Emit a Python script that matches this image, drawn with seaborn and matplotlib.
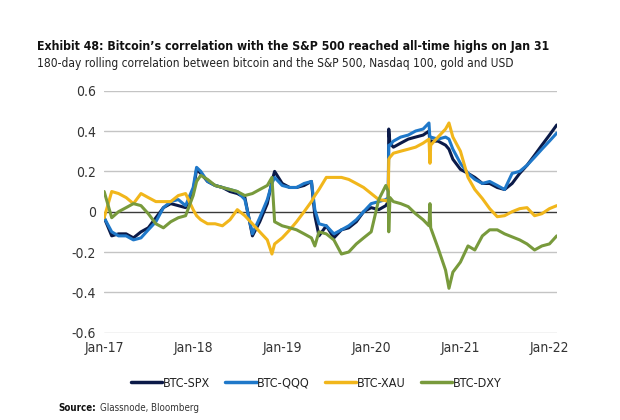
import pandas as pd
import matplotlib
matplotlib.use("Agg")
import matplotlib.pyplot as plt
import matplotlib.dates as mdates
from matplotlib.lines import Line2D
import seaborn as sns

# month starts plus a few extra dates where the lines jump or spike
months = pd.date_range("2017-01-01", "2022-01-01", freq="MS")
extra = ["2018-01-15", "2018-11-20", "2019-05-15", "2020-03-11", "2020-03-13",
         "2020-03-18", "2020-08-25", "2020-08-29", "2020-11-15", "2022-01-31"]
dates = sorted(list(months) + list(pd.to_datetime(extra)))

btc_spx = [-0.03, -0.12, -0.11, -0.11, -0.13, -0.10, -0.08, -0.03, 0.02, 0.04, 0.03, 0.02,
           0.10, 0.21, 0.19, 0.15, 0.13, 0.12, 0.10, 0.09, 0.07, -0.12, -0.05, 0.04, 0.15, 0.20,
           0.14, 0.12, 0.12, 0.13, 0.15, -0.02, -0.12, -0.07, -0.13, -0.09, -0.08, -0.05, 0.00,
           0.02, 0.01, 0.03, 0.05, 0.41, 0.34, 0.32, 0.34, 0.36, 0.37, 0.38, 0.40, 0.34, 0.35,
           0.35, 0.33, 0.31, 0.26,
           0.21, 0.19, 0.17, 0.14, 0.14, 0.12, 0.11, 0.14, 0.19, 0.23, 0.28, 0.33,
           0.38, 0.43]
btc_qqq = [-0.03, -0.10, -0.12, -0.12, -0.14, -0.13, -0.09, -0.05, 0.02, 0.05, 0.06, 0.03,
           0.12, 0.22, 0.20, 0.15, 0.13, 0.12, 0.11, 0.10, 0.06, -0.11, -0.03, 0.06, 0.14, 0.17,
           0.13, 0.12, 0.12, 0.14, 0.15, 0.01, -0.06, -0.07, -0.11, -0.09, -0.07, -0.04, 0.00,
           0.04, 0.05, 0.06, 0.07, 0.33, 0.33, 0.35, 0.37, 0.38, 0.40, 0.41, 0.44, 0.36, 0.37,
           0.36, 0.37, 0.36, 0.31,
           0.24, 0.19, 0.16, 0.14, 0.15, 0.13, 0.11, 0.19, 0.20, 0.23, 0.27, 0.31,
           0.35, 0.39]
btc_xau = [-0.03, 0.10, 0.09, 0.07, 0.04, 0.09, 0.07, 0.05, 0.05, 0.05, 0.08, 0.09,
           0.01, -0.02, -0.04, -0.06, -0.06, -0.07, -0.04, 0.01, -0.02, -0.06, -0.10, -0.14, -0.21, -0.16,
           -0.13, -0.09, -0.05, 0.00, 0.05, 0.08, 0.11, 0.17, 0.17, 0.17, 0.16, 0.14, 0.12,
           0.09, 0.06, 0.055, 0.05, 0.26, 0.27, 0.29, 0.30, 0.31, 0.32, 0.34, 0.36, 0.24, 0.33,
           0.37, 0.41, 0.44, 0.37,
           0.30, 0.17, 0.11, 0.065, 0.015, -0.025, -0.02, 0.00, 0.015, 0.02, -0.02, -0.01,
           0.015, 0.03]
btc_dxy = [0.10, -0.03, 0.00, 0.02, 0.04, 0.03, -0.01, -0.06, -0.08, -0.05, -0.03, -0.02,
           0.08, 0.15, 0.18, 0.16, 0.13, 0.12, 0.11, 0.10, 0.08, 0.09, 0.11, 0.13, 0.17, -0.05,
           -0.07, -0.08, -0.09, -0.11, -0.13, -0.17, -0.10, -0.11, -0.14, -0.21, -0.20, -0.16, -0.13,
           -0.10, 0.06, 0.13, 0.10, -0.10, 0.07, 0.05, 0.04, 0.025, -0.01, -0.04, -0.07, 0.04, -0.08,
           -0.18, -0.29, -0.38, -0.30,
           -0.25, -0.17, -0.19, -0.12, -0.09, -0.09, -0.11, -0.125, -0.14, -0.16, -0.19, -0.17,
           -0.16, -0.12]

pairs = ["BTC-SPX", "BTC-QQQ", "BTC-XAU", "BTC-DXY"]
colors = ["#0b1a48", "#1f78c9", "#f1b61b", "#789a3c"]

df = pd.concat([
    pd.DataFrame({"date": dates, "corr": vals, "pair": name})
    for name, vals in zip(pairs, [btc_spx, btc_qqq, btc_xau, btc_dxy])
])

sns.set_style("white")
plt.rcParams["font.family"] = ["DejaVu Sans"]
plt.rcParams["font.stretch"] = "condensed"

fig = plt.figure(figsize=(6.2, 4.2), dpi=100)
ax = fig.add_axes([0.168, 0.208, 0.730, 0.576])

for y in [-0.6, -0.4, -0.2, 0.2, 0.4, 0.6]:
    ax.axhline(y, color="#c4c4c4", lw=1.0, zorder=0)
ax.axhline(0, color="#3a3a3a", lw=1.0, zorder=0)

sns.lineplot(data=df, x="date", y="corr", hue="pair", hue_order=pairs,
             palette=dict(zip(pairs, colors)), linewidth=2.2, legend=False, ax=ax)

ax.set_ylim(-0.6, 0.6)
ax.set_yticks([-0.6, -0.4, -0.2, 0, 0.2, 0.4, 0.6])
ax.set_yticklabels(["-0.6", "-0.4", "-0.2", "0", "0.2", "0.4", "0.6"])
ax.set_xlim(pd.Timestamp("2017-01-01"), pd.Timestamp("2022-01-31"))
ax.set_xticks(pd.date_range("2017-01-01", "2022-01-01", freq="YS"))
ax.xaxis.set_major_formatter(mdates.DateFormatter("%b-%y"))
ax.tick_params(axis="both", length=0, labelsize=10, labelcolor="#333333", pad=6)
ax.set_xlabel("")
ax.set_ylabel("")
ax.grid(False)
for s in ax.spines.values():
    s.set_visible(False)

handles = [Line2D([0], [0], color=c, lw=2.5) for c in colors]
fig.legend(handles, pairs, loc="center", bbox_to_anchor=(0.51, 0.088), ncol=4,
           frameon=False, fontsize=9, handlelength=2.5, handletextpad=0.05,
           columnspacing=1.2, labelcolor="#222222")

title = fig.text(0.06, 0.88, "Exhibit 48: Bitcoin\u2019s correlation with the S&P 500 reached all-time highs on Jan 31",
                 fontsize=10.5, fontweight="bold", color="#111111")
sub = fig.text(0.06, 0.84, "180-day rolling correlation between bitcoin and the S&P 500, Nasdaq 100, gold and USD",
               fontsize=9.5, color="#222222")
src = fig.text(0.094, 0.022, "Source:", fontsize=7, fontweight="bold", color="#111111")

# shrink header texts to the widths they take in the reference
renderer = fig.canvas.get_renderer()
for t, target in [(title, 518), (sub, 480)]:
    w = t.get_window_extent(renderer).width
    t.set_fontsize(t.get_fontsize() * target / w)
w = src.get_window_extent(renderer).width
fig.text(0.094 + (w + 4) / 620, 0.022, "Glassnode, Bloomberg", fontsize=7, color="#333333")

fig.savefig("out.png", dpi=100, facecolor="white")
